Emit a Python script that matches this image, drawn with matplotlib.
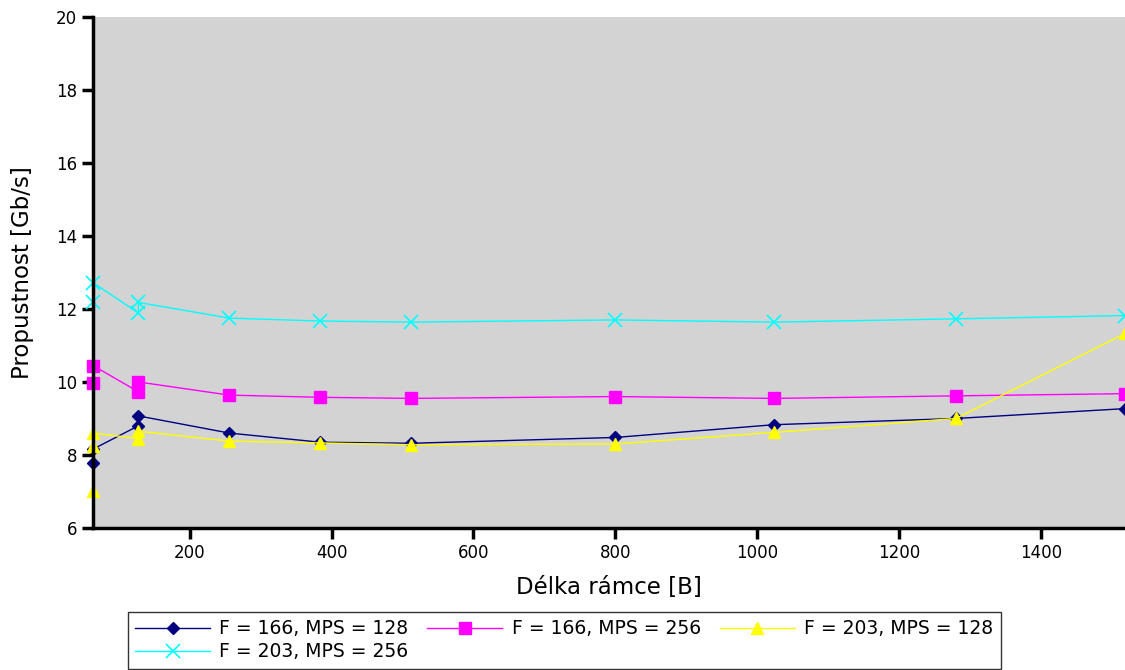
import matplotlib.pyplot as plt

# frame length [B] for each series (repeated sizes = repeated measurements)
x_navy = [64, 64, 128, 128, 256, 384, 512, 800, 1024, 1280, 1518]
y_navy = [7.78, 8.16, 8.80, 9.07, 8.60, 8.35, 8.32, 8.48, 8.83, 9.00, 9.27]

x_magenta = [64, 64, 128, 128, 256, 384, 512, 800, 1024, 1280, 1518]
y_magenta = [9.97, 10.45, 9.73, 10.00, 9.64, 9.58, 9.55, 9.60, 9.55, 9.62, 9.68]

x_yellow = [64, 64, 64, 128, 128, 256, 384, 512, 800, 1024, 1280, 1518]
y_yellow = [7.02, 8.25, 8.60, 8.45, 8.65, 8.38, 8.33, 8.28, 8.30, 8.62, 9.00, 11.33]

x_cyan = [64, 64, 128, 128, 256, 384, 512, 800, 1024, 1280, 1518]
y_cyan = [12.19, 12.72, 11.89, 12.18, 11.75, 11.67, 11.64, 11.70, 11.64, 11.73, 11.82]

labels = ["F = 166, MPS = 128", "F = 166, MPS = 256",
          "F = 203, MPS = 128", "F = 203, MPS = 256"]


def main():
    fig = plt.figure(figsize=(11.25, 6.7), dpi=100)
    ax = fig.add_axes([0.0827, 0.212, 0.9173, 0.7626])
    ax.set_facecolor('#d3d3d3')

    l1, = ax.plot(x_navy, y_navy, color='#000080', lw=1, marker='D', ms=6, label=labels[0], clip_on=False)
    l2, = ax.plot(x_magenta, y_magenta, color='#ff00ff', lw=1, marker='s', ms=9, label=labels[1], clip_on=False)
    l3, = ax.plot(x_yellow, y_yellow, color='#ffff00', lw=1, marker='^', ms=9, label=labels[2], clip_on=False)
    l4, = ax.plot(x_cyan, y_cyan, color='#00ffff', lw=1, marker='x', ms=10, mew=1.2, label=labels[3], clip_on=False)

    ax.set_xlim(64, 1518)
    ax.set_ylim(6, 20)
    ax.set_xticks([200, 400, 600, 800, 1000, 1200, 1400])
    ax.set_yticks(range(6, 21, 2))
    ax.tick_params(axis='both', labelsize=12, width=2.5, length=8, direction='out')

    for side in ['top', 'right']:
        ax.spines[side].set_visible(False)
    for side in ['left', 'bottom']:
        ax.spines[side].set_linewidth(2.5)

    ax.set_xlabel("Délka rámce [B]", fontsize=16.5, labelpad=10)
    ax.set_ylabel("Propustnost [Gb/s]", fontsize=16.5, labelpad=16)

    # row-wise order: matplotlib fills legend columns first
    handles = [l1, l4, l2, l3]
    leg = fig.legend(handles, [h.get_label() for h in handles],
                     loc='lower left', bbox_to_anchor=(0.105, -0.012), ncol=3,
                     fontsize=13.5, frameon=True, fancybox=False,
                     edgecolor='black', handlelength=4, handletextpad=0.5,
                     borderpad=0.4, columnspacing=1.0, labelspacing=0.2)
    leg.get_frame().set_linewidth(1)

    fig.savefig('out.png', dpi=100)


if __name__ == "__main__":
    main()
